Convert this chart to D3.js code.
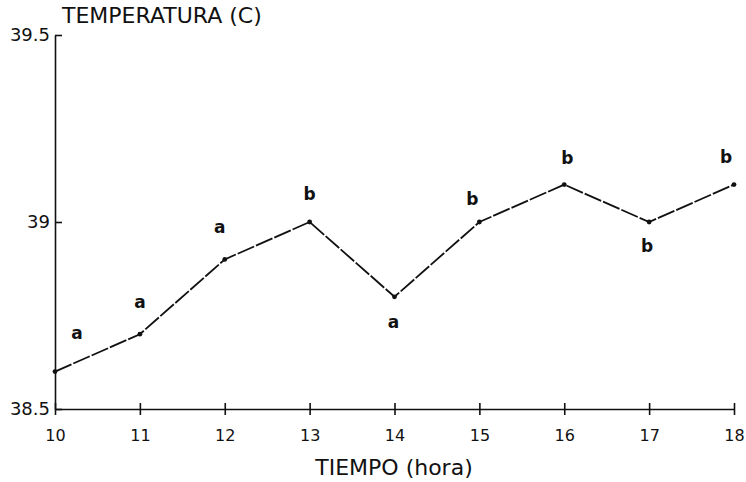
<!DOCTYPE html>
<html>
<head>
<meta charset="utf-8">
<script src="https://cdn.jsdelivr.net/npm/d3@7"></script>
<style>
  body { margin: 0; background: #fff; }
  text { font-family: "DejaVu Sans", sans-serif; fill: #111; }
</style>
</head>
<body>
<div id="chart"></div>
<script>
// data
const hours = [10, 11, 12, 13, 14, 15, 16, 17, 18];
const temps = [38.6, 38.7, 38.9, 39.0, 38.8, 39.0, 39.1, 39.0, 39.1];
const letters = ["a", "a", "a", "b", "a", "b", "b", "b", "b"];
const yTicks = [38.5, 39, 39.5];
const yTickLabels = ["38.5", "39", "39.5"];

// where each letter sits relative to its point (px)
const labelOffset = [[22, -39], [0, -32], [-5, -32], [0, -28], [-1, 25],
                     [-7, -23], [3, -27], [-2, 24], [-8, -28]];

const width = 746, height = 482;

const svg = d3.select("#chart").append("svg")
  .attr("width", width)
  .attr("height", height);

const x = d3.scaleLinear().domain([10, 18]).range([55, 734]);
const y = d3.scaleLinear().domain([38.5, 39.5]).range([409, 35]);

// y axis, ticks pointing inward
const yAxis = d3.axisLeft(y)
  .tickValues(yTicks)
  .tickFormat((d, i) => yTickLabels[i])
  .tickSizeInner(-7)
  .tickSizeOuter(0)
  .tickPadding(5);

const gy = svg.append("g")
  .attr("transform", "translate(" + x(10) + ",0)")
  .call(yAxis);
gy.select(".domain").attr("stroke", "#111").attr("stroke-width", 1.6);
gy.selectAll(".tick line").attr("stroke", "#111").attr("stroke-width", 1.6);
gy.selectAll(".tick text").style("font-size", "18px").attr("fill", "#111");

// x axis, ticks crossing the line
const xAxis = d3.axisBottom(x)
  .tickValues(hours)
  .tickFormat(d3.format("d"))
  .tickSizeInner(5)
  .tickSizeOuter(0)
  .tickPadding(16);

const gx = svg.append("g")
  .attr("transform", "translate(0," + y(38.5) + ")")
  .call(xAxis);
gx.select(".domain").attr("stroke", "#111").attr("stroke-width", 1.6);
gx.selectAll(".tick line")
  .attr("y1", -6).attr("y2", 6)
  .attr("stroke", "#111").attr("stroke-width", 1.6);
gx.selectAll(".tick text").style("font-size", "16px").attr("fill", "#111");

// axis titles
svg.append("text")
  .attr("x", 62).attr("y", 23)
  .style("font-size", "22px")
  .text("TEMPERATURA (C)");

svg.append("text")
  .attr("x", 394).attr("y", 475)
  .attr("text-anchor", "middle")
  .style("font-size", "22px")
  .text("TIEMPO (hora)");

// the series
const line = d3.line()
  .x((d, i) => x(hours[i]))
  .y(d => y(d));

svg.append("path")
  .datum(temps)
  .attr("fill", "none")
  .attr("stroke", "#111")
  .attr("stroke-width", 1.8)
  .attr("stroke-dasharray", "18,2")
  .attr("d", line);

svg.selectAll(".pt")
  .data(temps)
  .enter()
  .append("circle")
  .attr("class", "pt")
  .attr("cx", (d, i) => x(hours[i]))
  .attr("cy", d => y(d))
  .attr("r", 2.4)
  .attr("fill", "#111");

svg.selectAll(".lbl")
  .data(letters)
  .enter()
  .append("text")
  .attr("class", "lbl")
  .attr("x", (d, i) => x(hours[i]) + labelOffset[i][0])
  .attr("y", (d, i) => y(temps[i]) + labelOffset[i][1])
  .attr("text-anchor", "middle")
  .attr("dominant-baseline", "central")
  .style("font-size", "17px")
  .style("font-weight", "bold")
  .text(d => d);
</script>
</body>
</html>
